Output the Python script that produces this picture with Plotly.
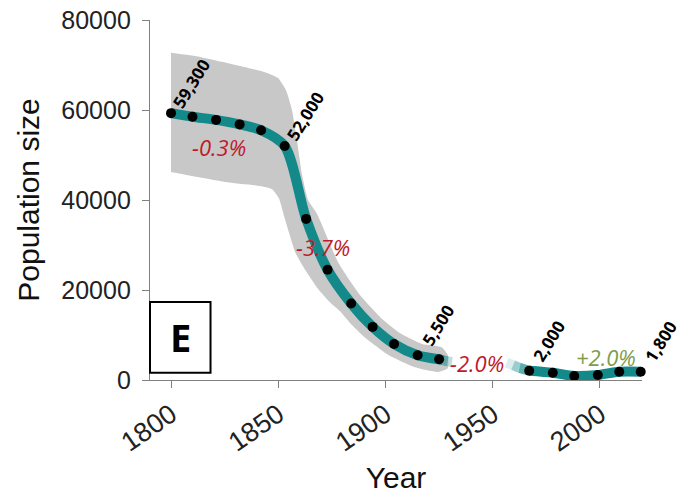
import plotly.graph_objects as go

# ---- data ----
years = [1800, 1810, 1821, 1832, 1842, 1853, 1863, 1873, 1884, 1894, 1904, 1915, 1925,
         1967, 1978, 1988, 1999, 2009, 2019]
pop = [59300, 58500, 57800, 56800, 55500, 52000, 35800, 24500, 17000, 11800, 8000, 5500, 4600,
       2050, 1600, 900, 1100, 1850, 1850]
split_idx = 13  # first point of the second (recent) segment

# uncertainty band (upper edge left->right, lower edge right->left)
band_up_years = [1800, 1813.5, 1832.2, 1843.8, 1849.9, 1853.6, 1856.4, 1858.7, 1861.1, 1863.9,
                 1868.1, 1878.1, 1888.4, 1897.9, 1907.5, 1917.0, 1926.2, 1929.0]
band_up_vals = [72700, 71800, 69800, 68400, 67100, 64400, 60000, 53300, 45600, 40000,
                36900, 26000, 18700, 13800, 10200, 8000, 7300, 5600]
band_lo_years = [1929.0, 1924.5, 1913.3, 1901.2, 1890.0, 1884.4, 1878.8, 1874.1, 1868.5,
                 1862.5, 1858.0, 1855.3, 1852.8, 1850.3, 1847.1, 1841.5, 1825.2, 1800]
band_lo_vals = [2600, 1800, 2900, 5600, 9600, 12200, 15300, 17300, 20300,
                24500, 28300, 32300, 36300, 40400, 42400, 43100, 44000, 46200]

# fading line ends (tail of first segment, head of second segment)
tail_years = [1925, 1927, 1929, 1931]
tail_vals = [4600, 4350, 4150, 4000]
head_years = [1956.5, 1959.5, 1962.5, 1967]
head_vals = [3850, 3300, 2700, 2050]

# value labels (index into years/pop)
value_label_idx = [0, 5, 11, 13, 18]
value_label_text = ["59,300", "52,000", "5,500", "2,000", "1,800"]

# growth-rate labels
rate_text = ["-0.3%", "-3.7%", "-2.0%", "+2.0%"]
rate_years = [1822.4, 1870.9, 1942.7, 2002.8]
rate_vals = [51800, 29600, 3800, 5100]

x_ticks = [1800, 1850, 1900, 1950, 2000]
x_ticktext = ["1800", "1850", "1900", "1950", "2000"]
y_ticks = [0, 20000, 40000, 60000, 80000]
y_ticktext = ["0", "20000", "40000", "60000", "80000"]

TEAL = "#13898a"
BAND = "#c8c8c8"
RED = "#c0182a"
GREEN = "#7f9c4c"

fig = go.Figure()

# band polygon
fig.add_trace(go.Scatter(
    x=band_up_years + band_lo_years, y=band_up_vals + band_lo_vals,
    fill="toself", fillcolor=BAND, line=dict(width=0, shape="spline", smoothing=0.5),
    mode="lines", hoverinfo="skip", showlegend=False))

# teal line segments
fig.add_trace(go.Scatter(x=years[:split_idx], y=pop[:split_idx], mode="lines",
                         line=dict(color=TEAL, width=10, shape="spline", smoothing=0.8),
                         showlegend=False, cliponaxis=False))
fig.add_trace(go.Scatter(x=years[split_idx:], y=pop[split_idx:], mode="lines",
                         line=dict(color=TEAL, width=10, shape="spline", smoothing=0.8),
                         showlegend=False, cliponaxis=False))

# fades
n = len(tail_years) - 1
for i in range(n):
    op = 0.8 * (1 - i / n)
    fig.add_trace(go.Scatter(x=tail_years[i:i + 2], y=tail_vals[i:i + 2], mode="lines",
                             line=dict(color=TEAL, width=10), opacity=op, showlegend=False))
n = len(head_years) - 1
for i in range(n):
    op = 0.15 + 0.8 * (i / n)
    fig.add_trace(go.Scatter(x=head_years[i:i + 2], y=head_vals[i:i + 2], mode="lines",
                             line=dict(color=TEAL, width=10), opacity=op, showlegend=False))

# dots
fig.add_trace(go.Scatter(x=years, y=pop, mode="markers",
                         marker=dict(color="black", size=10),
                         showlegend=False, cliponaxis=False))

# value labels
for i, t in zip(value_label_idx, value_label_text):
    fig.add_annotation(x=years[i], y=pop[i], text="<b>" + t + "</b>", showarrow=False,
                       textangle=-58, xshift=20, yshift=30, xanchor="center", yanchor="middle",
                       font=dict(family="Open Sans", size=17, color="black"))

# rate labels
for t, xv, yv in zip(rate_text, rate_years, rate_vals):
    col = GREEN if t.startswith("+") else RED
    fig.add_annotation(x=xv, y=yv, text="<i>" + t + "</i>", showarrow=False,
                       xanchor="center", yanchor="middle",
                       font=dict(family="Open Sans", size=22, color=col))

# panel letter box
fig.add_shape(type="rect", xref="paper", yref="paper", x0=0.0, x1=0.123, y0=0.02, y1=0.217,
              line=dict(color="black", width=2), fillcolor="white")
fig.add_annotation(xref="paper", yref="paper", x=0.0615, y=0.119, text="<b>E</b>",
                   xanchor="center", yanchor="middle",
                   showarrow=False, font=dict(family="Open Sans", size=38, color="black"))

axis_common = dict(showgrid=False, zeroline=False, showline=True, linecolor="#808080",
                   linewidth=1.3, ticks="outside", ticklen=7, tickcolor="#808080",
                   automargin=False)

fig.update_xaxes(range=[1790.2, 2019.6], tickvals=x_ticks, ticktext=x_ticktext, tickangle=-35,
                 tickfont=dict(family="Liberation Sans", size=27, color="#222222"),
                 title=dict(text="Year", font=dict(family="Liberation Sans", size=30, color="#111111"),
                            standoff=18),
                 **axis_common)
fig.update_yaxes(range=[0, 80000], tickvals=y_ticks, ticktext=y_ticktext,
                 tickfont=dict(family="Liberation Sans", size=25, color="#222222"),
                 title=dict(text="Population size", font=dict(family="Liberation Sans", size=30, color="#111111"),
                            standoff=12),
                 ticklabelstandoff=6,
                 **axis_common)

fig.update_layout(width=685, height=494, margin=dict(l=150, r=43, t=20, b=114),
                  plot_bgcolor="white", paper_bgcolor="white")

# remove the default page margin so the figure sits at the window's top-left corner
fig.write_html("out.html", config={"displayModeBar": False},
               post_script="document.body.style.margin='0px';")
